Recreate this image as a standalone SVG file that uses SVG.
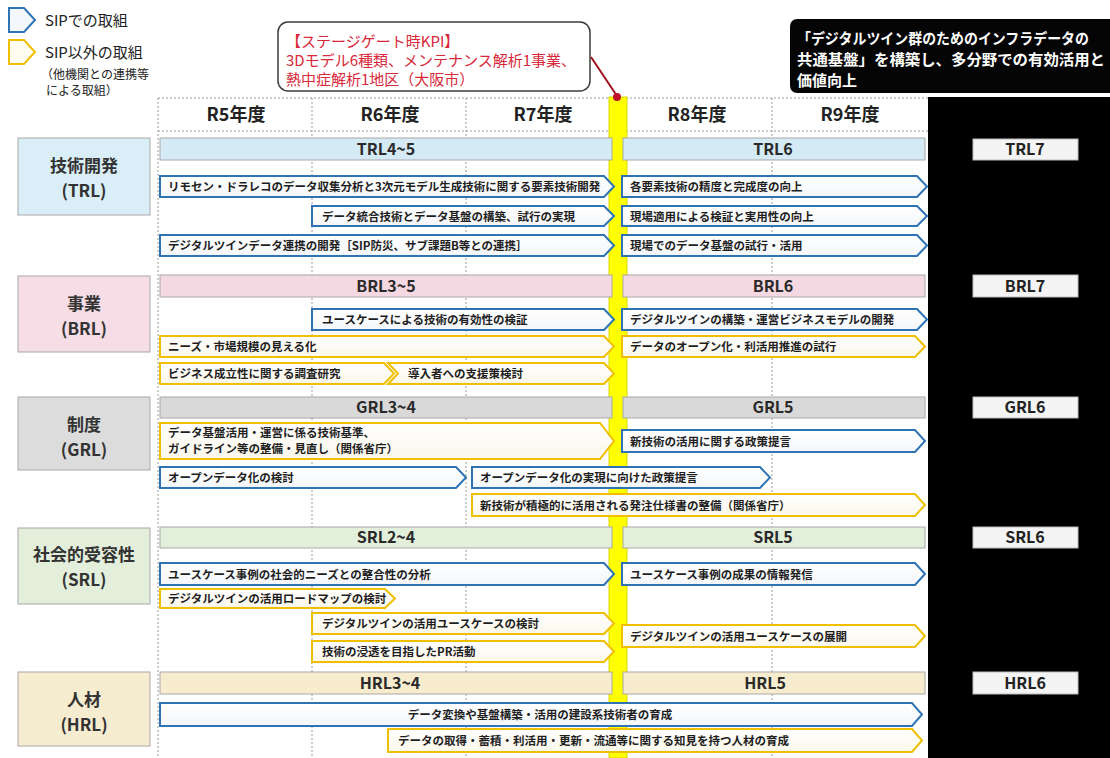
<svg xmlns="http://www.w3.org/2000/svg" width="1110" height="758" viewBox="0 0 1110 758">
<defs>
<linearGradient id="gw" x1="0" y1="0" x2="0" y2="1"><stop offset="0" stop-color="#ffffff"/><stop offset="1" stop-color="#f3f6fa"/></linearGradient>
<linearGradient id="gy" x1="0" y1="0" x2="0" y2="1"><stop offset="0" stop-color="#ffffff"/><stop offset="1" stop-color="#fbf7ea"/></linearGradient>
<style>
text{font-family:"Noto Sans CJK JP","Noto Sans",sans-serif}
.grid{stroke:#9a9a9a;stroke-width:1;stroke-dasharray:2 2;fill:none}
.hdr{font-size:18px;font-weight:bold;fill:#222;text-anchor:middle}
.lab{font-size:17px;font-weight:bold;fill:#333;text-anchor:middle}
.band{stroke:#a8a8a8;stroke-width:1}
.bt{font-size:16px;font-weight:bold;fill:#2a2a2a;text-anchor:middle}
.lv{fill:#f4f4f4;stroke:#bbb;stroke-width:1}
.lvt{font-size:16px;font-weight:bold;fill:#222;text-anchor:middle}
.ab{fill:url(#gw);stroke:#2e74b5;stroke-width:2}
.ay{fill:url(#gy);stroke:#f0bf00;stroke-width:2}
.at{font-size:11.5px;font-weight:bold;fill:#1e1e1e}
.kpi{font-size:15px;fill:#d8283a}
.goal{font-size:15px;font-weight:bold;fill:#fff}
.leg{font-size:15px;fill:#222}
.legs{font-size:12px;fill:#222}
</style>
</defs>
<rect width="1110" height="758" fill="#fff"/>

<!-- legend -->
<g id="legend">
<path d="M9,8 L24,8 L35,20 L24,32 L9,32 Z" fill="#f4f8fc" stroke="#2e74b5" stroke-width="2"/>
<text class="leg" x="45" y="26">SIPでの取組</text>
<path d="M9,40 L24,40 L35,52 L24,64 L9,64 Z" fill="#fffbee" stroke="#f0bf00" stroke-width="2"/>
<text class="leg" x="45" y="58">SIP以外の取組</text>
<text class="legs" x="41" y="79">（他機関との連携等</text>
<text class="legs" x="46" y="95">による取組）</text>
</g>

<!-- black right panel -->
<rect x="928" y="97" width="182" height="661" fill="#000"/>

<!-- grid -->
<g id="grid">
<line class="grid" x1="158" y1="98" x2="928" y2="98"/>
<line class="grid" x1="158" y1="131" x2="928" y2="131"/>
<line class="grid" x1="158" y1="98" x2="158" y2="758"/>
<line class="grid" x1="312" y1="98" x2="312" y2="758"/>
<line class="grid" x1="466" y1="98" x2="466" y2="758"/>
<line class="grid" x1="772" y1="98" x2="772" y2="758"/>
</g>

<!-- header -->
<g id="header">
<text class="hdr" x="236" y="121">R5年度</text>
<text class="hdr" x="390" y="121">R6年度</text>
<text class="hdr" x="543" y="121">R7年度</text>
<text class="hdr" x="697" y="121">R8年度</text>
<text class="hdr" x="850" y="121">R9年度</text>
</g>

<!-- stage gate bar -->
<rect id="stagegate" x="609" y="97" width="18" height="661" fill="#ffff00" stroke="#d8d800" stroke-width="1"/>

<!-- callout -->
<g id="kpi">
<rect x="278" y="22" width="312" height="69" rx="10" fill="#fff" stroke="#3c3c3c" stroke-width="1.5"/>
<text class="kpi" x="286" y="47">【ステージゲート時KPI】</text>
<text class="kpi" x="286" y="66">3Dモデル6種類、メンテナンス解析1事業、</text>
<text class="kpi" x="286" y="85">熱中症解析1地区（大阪市）</text>
</g>
<g id="connectors">
<line x1="591" y1="57" x2="617" y2="96" stroke="#9c1020" stroke-width="2"/>
<circle cx="617" cy="97" r="4" fill="#c0102a"/>
</g>

<!-- goal box -->
<g id="goal">
<rect x="790" y="19" width="330" height="74" rx="7" fill="#050505"/>
<text class="goal" x="797" y="44" textLength="292" lengthAdjust="spacingAndGlyphs">「デジタルツイン群のためのインフラデータの</text>
<text class="goal" x="797" y="65" textLength="308" lengthAdjust="spacingAndGlyphs">共通基盤」を構築し、多分野での有効活用と</text>
<text class="goal" x="797" y="86">価値向上</text>
</g>

<!-- TRL -->
<g id="trl">
<rect x="18" y="138" width="132" height="77" fill="#d9eef7" stroke="#a8a8a8"/>
<text class="lab" x="84" y="172">技術開発</text>
<text class="lab" x="84" y="197">(TRL)</text>
<rect class="band" x="160" y="138" width="452" height="22" fill="#d4eaf5"/>
<text class="bt" x="386" y="155">TRL4~5</text>
<rect class="band" x="623" y="138" width="302" height="22" fill="#d4eaf5"/>
<text class="bt" x="773" y="155">TRL6</text>
<rect class="lv" x="973" y="139" width="105" height="21"/>
<text class="lvt" x="1025" y="155">TRL7</text>
<path class="ab" d="M160,176 L604,176 L614,186.5 L604,197 L160,197 Z"/>
<text class="at" x="168" y="191">リモセン・ドラレコのデータ収集分析と3次元モデル生成技術に関する要素技術開発</text>
<path class="ab" d="M622,176 L917,176 L927,186.5 L917,197 L622,197 Z"/>
<text class="at" x="630" y="191">各要素技術の精度と完成度の向上</text>
<path class="ab" d="M312,206 L604,206 L614,216 L604,226 L312,226 Z"/>
<text class="at" x="322" y="220.5">データ統合技術とデータ基盤の構築、試行の実現</text>
<path class="ab" d="M622,206 L917,206 L927,216 L917,226 L622,226 Z"/>
<text class="at" x="630" y="220.5">現場適用による検証と実用性の向上</text>
<path class="ab" d="M160,235 L604,235 L614,245.5 L604,256 L160,256 Z"/>
<text class="at" x="168" y="250">デジタルツインデータ連携の開発［SIP防災、サブ課題B等との連携］</text>
<path class="ab" d="M622,235 L917,235 L927,245.5 L917,256 L622,256 Z"/>
<text class="at" x="630" y="250">現場でのデータ基盤の試行・活用</text>
</g>

<!-- BRL -->
<g id="brl">
<rect x="18" y="276" width="132" height="76" fill="#f6dde6" stroke="#a8a8a8"/>
<text class="lab" x="84" y="310">事業</text>
<text class="lab" x="84" y="335">(BRL)</text>
<rect class="band" x="160" y="275" width="452" height="22" fill="#f5d9e2"/>
<text class="bt" x="386" y="292">BRL3~5</text>
<rect class="band" x="623" y="275" width="302" height="22" fill="#f5d9e2"/>
<text class="bt" x="773" y="292">BRL6</text>
<rect class="lv" x="973" y="275" width="105" height="22"/>
<text class="lvt" x="1025" y="292">BRL7</text>
<path class="ab" d="M312,309 L604,309 L614,319.5 L604,330 L312,330 Z"/>
<text class="at" x="322" y="324">ユースケースによる技術の有効性の検証</text>
<path class="ab" d="M622,309 L917,309 L927,319.5 L917,330 L622,330 Z"/>
<text class="at" x="630" y="324">デジタルツインの構築・運営ビジネスモデルの開発</text>
<path class="ay" d="M160,336 L604,336 L614,346.5 L604,357 L160,357 Z"/>
<text class="at" x="168" y="351">ニーズ・市場規模の見える化</text>
<path class="ay" d="M622,336 L915,336 L925,346.5 L915,357 L622,357 Z"/>
<text class="at" x="630" y="351">データのオープン化・利活用推進の試行</text>
<path class="ay" d="M160,363 L384,363 L394,373.5 L384,384 L160,384 Z"/>
<text class="at" x="168" y="378">ビジネス成立性に関する調査研究</text>
<path class="ay" d="M388,363 L604,363 L614,373.5 L604,384 L388,384 L398,373.5 Z"/>
<text class="at" x="408" y="378">導入者への支援策検討</text>
</g>

<!-- GRL -->
<g id="grl">
<rect x="18" y="397" width="132" height="73" fill="#dcdcdc" stroke="#a8a8a8"/>
<text class="lab" x="84" y="431">制度</text>
<text class="lab" x="84" y="456">(GRL)</text>
<rect class="band" x="160" y="397" width="452" height="21" fill="#d9d9d9"/>
<text class="bt" x="386" y="413">GRL3~4</text>
<rect class="band" x="623" y="397" width="302" height="21" fill="#d9d9d9"/>
<text class="bt" x="773" y="413">GRL5</text>
<rect class="lv" x="973" y="397" width="105" height="21"/>
<text class="lvt" x="1025" y="413">GRL6</text>
<path class="ay" d="M160,423 L600,423 L614,441 L600,459 L160,459 Z"/>
<text class="at" x="168" y="437">データ基盤活用・運営に係る技術基準、</text>
<text class="at" x="168" y="453">ガイドライン等の整備・見直し（関係省庁）</text>
<path class="ab" d="M622,430 L915,430 L925,441 L915,452 L622,452 Z"/>
<text class="at" x="630" y="445.5">新技術の活用に関する政策提言</text>
<path class="ab" d="M160,467 L456,467 L466,477.5 L456,488 L160,488 Z"/>
<text class="at" x="168" y="482">オープンデータ化の検討</text>
<path class="ab" d="M472,467 L760,467 L770,477.5 L760,488 L472,488 Z"/>
<text class="at" x="480" y="482">オープンデータ化の実現に向けた政策提言</text>
<path class="ay" d="M472,494 L915,494 L925,505 L915,516 L472,516 Z"/>
<text class="at" x="480" y="509.5">新技術が積極的に活用される発注仕様書の整備（関係省庁）</text>
</g>

<!-- SRL -->
<g id="srl">
<rect x="18" y="528" width="132" height="76" fill="#e3eedb" stroke="#a8a8a8"/>
<text class="lab" x="84" y="561">社会的受容性</text>
<text class="lab" x="84" y="586">(SRL)</text>
<rect class="band" x="160" y="527" width="452" height="21" fill="#e2efda"/>
<text class="bt" x="386" y="543">SRL2~4</text>
<rect class="band" x="623" y="527" width="302" height="21" fill="#e2efda"/>
<text class="bt" x="773" y="543">SRL5</text>
<rect class="lv" x="973" y="527" width="105" height="21"/>
<text class="lvt" x="1025" y="543">SRL6</text>
<path class="ab" d="M160,563 L604,563 L614,574 L604,585 L160,585 Z"/>
<text class="at" x="168" y="578.5">ユースケース事例の社会的ニーズとの整合性の分析</text>
<path class="ab" d="M622,563 L915,563 L925,574 L915,585 L622,585 Z"/>
<text class="at" x="630" y="578.5">ユースケース事例の成果の情報発信</text>
<path class="ay" d="M160,589 L385,589 L395,598.5 L385,608 L160,608 Z"/>
<text class="at" x="168" y="603">デジタルツインの活用ロードマップの検討</text>
<path class="ay" d="M312,613 L604,613 L614,623.5 L604,634 L312,634 Z"/>
<text class="at" x="322" y="628">デジタルツインの活用ユースケースの検討</text>
<path class="ay" d="M312,641 L604,641 L614,651.5 L604,662 L312,662 Z"/>
<text class="at" x="322" y="656">技術の浸透を目指したPR活動</text>
<path class="ay" d="M622,625 L915,625 L925,636 L915,647 L622,647 Z"/>
<text class="at" x="630" y="640.5">デジタルツインの活用ユースケースの展開</text>
</g>

<!-- HRL -->
<g id="hrl">
<rect x="18" y="672" width="132" height="74" fill="#f6eccf" stroke="#a8a8a8"/>
<text class="lab" x="84" y="706">人材</text>
<text class="lab" x="84" y="731">(HRL)</text>
<rect class="band" x="160" y="672" width="452" height="22" fill="#f7ecce"/>
<text class="bt" x="390" y="689">HRL3~4</text>
<rect class="band" x="623" y="672" width="302" height="22" fill="#f7ecce"/>
<text class="bt" x="765" y="689">HRL5</text>
<rect class="lv" x="973" y="672" width="105" height="22"/>
<text class="lvt" x="1025" y="689">HRL6</text>
<path class="ab" d="M160,703 L912,703 L922,714.5 L912,726 L160,726 Z"/>
<text class="at" x="540" y="718.5" text-anchor="middle">データ変換や基盤構築・活用の建設系技術者の育成</text>
<path class="ay" d="M388,729 L912,729 L922,740.5 L912,752 L388,752 Z"/>
<text class="at" x="398" y="744.5">データの取得・蓄積・利活用・更新・流通等に関する知見を持つ人材の育成</text>
</g>
</svg>
